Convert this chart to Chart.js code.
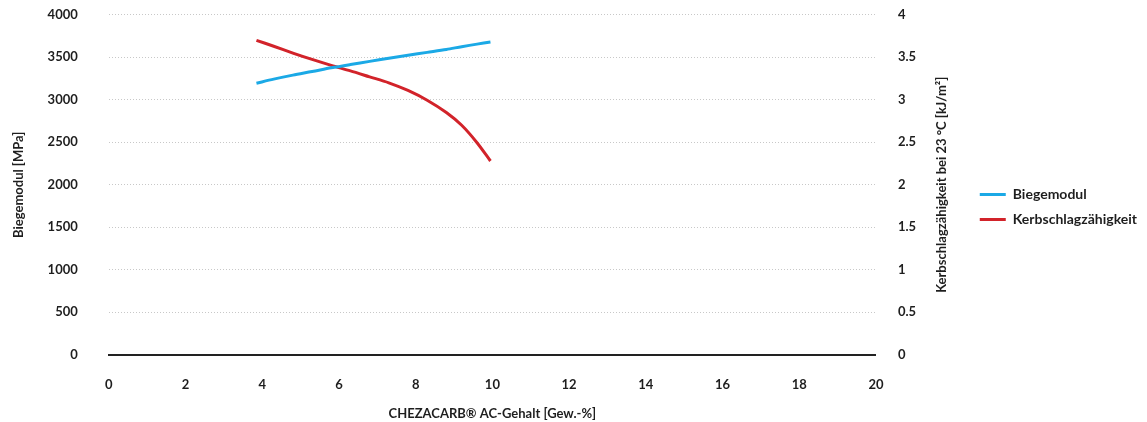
<!DOCTYPE html>
<html>
<head>
<meta charset="utf-8">
<script src="https://cdn.jsdelivr.net/npm/chart.js@4/dist/chart.umd.min.js"></script>
<style>
  html, body { margin: 0; padding: 0; background: #fff; }
  #wrap { width: 1147px; height: 422px; position: relative; }
</style>
</head>
<body>
<div id="wrap"><canvas id="chart"></canvas></div>
<script>
// AC-Gehalt in Gew.-%
const acGehalt = [3.85, 4.3, 4.8, 5.3, 5.8, 6.3, 6.8, 7.3, 7.8, 8.3, 8.8, 9.2, 9.6, 9.95];
// Biegemodul [MPa]
const biegemodul = [3195, 3243, 3290, 3332, 3376, 3415, 3452, 3488, 3524, 3558, 3592, 3625, 3655, 3680];
// Kerbschlagzähigkeit bei 23 °C [kJ/m²]
const kerbschlag = [3.70, 3.63, 3.55, 3.475, 3.405, 3.34, 3.27, 3.20, 3.11, 2.995, 2.85, 2.70, 2.495, 2.28];

const xTitle = 'CHEZACARB® AC-Gehalt [Gew.-%]';
const yLeftTitle = 'Biegemodul [MPa]';
const yRightTitle = 'Kerbschlagzähigkeit bei 23 °C [kJ/m²]';

const FONT = 'Lato, "Noto Sans", sans-serif';
const TEXT = '#1e1e1e';
const bold = size => ({ family: FONT, size: size, weight: 'bold' });

// right title must read bottom-to-top like the left one
const rightTitlePlugin = {
    id: 'rightTitle',
    afterLayout: function (chart) {
        // legend sits a bit above the centre in the original
        chart.legend.top -= 7;
        chart.legend.bottom -= 7;
    },
    afterDraw: function (chart) {
        const s = chart.scales.y2;
        const ctx = chart.ctx;
        ctx.save();
        ctx.font = 'bold 13px ' + FONT;
        ctx.fillStyle = TEXT;
        ctx.textAlign = 'center';
        ctx.textBaseline = 'middle';
        ctx.translate(s.right - 19 - 7.8, (s.top + s.bottom) / 2);
        ctx.rotate(-Math.PI / 2);
        ctx.fillText(yRightTitle, 0, 0);
        ctx.restore();
    }
};

new Chart(document.getElementById('chart'), {
    type: 'line',
    data: {
        datasets: [
            {
                label: 'Biegemodul',
                data: acGehalt.map((x, i) => ({ x: x, y: biegemodul[i] })),
                borderColor: '#1ba9e6',
                backgroundColor: '#1ba9e6',
                borderWidth: 3,
                pointRadius: 0,
                tension: 0.3,
                yAxisID: 'y'
            },
            {
                label: 'Kerbschlagzähigkeit',
                data: acGehalt.map((x, i) => ({ x: x, y: kerbschlag[i] })),
                borderColor: '#d2232a',
                backgroundColor: '#d2232a',
                borderWidth: 3,
                pointRadius: 0,
                tension: 0.3,
                yAxisID: 'y2'
            }
        ]
    },
    options: {
        responsive: true,
        maintainAspectRatio: false,
        animation: false,
        layout: { padding: { top: 6, left: 2, right: 0, bottom: 0 } },
        plugins: {
            tooltip: { enabled: false },
            legend: {
                position: 'right',
                labels: {
                    usePointStyle: true,
                    pointStyle: 'line',
                    pointStyleWidth: 26,
                    padding: 11,
                    color: TEXT,
                    font: bold(14)
                }
            }
        },
        scales: {
            x: {
                type: 'linear',
                min: 0,
                max: 20,
                ticks: {
                    stepSize: 2,
                    padding: 14,
                    color: TEXT,
                    font: bold(13)
                },
                grid: { display: false, drawTicks: true, tickLength: 8 },
                border: { display: true, color: '#222', width: 2 },
                title: {
                    display: true,
                    text: xTitle,
                    color: TEXT,
                    padding: { top: 0, bottom: 0 },
                    font: bold(13)
                }
            },
            y: {
                position: 'left',
                min: 0,
                max: 4000,
                ticks: {
                    stepSize: 500,
                    padding: 7,
                    color: TEXT,
                    font: bold(13),
                    callback: v => String(v)
                },
                grid: { color: '#c8c8c8', lineWidth: 1, drawTicks: true, tickLength: 24, tickColor: 'rgba(0,0,0,0)' },
                border: { display: false, dash: [1, 2] },
                title: {
                    display: true,
                    text: yLeftTitle,
                    color: TEXT,
                    padding: { top: 9, bottom: 14 },
                    font: bold(13)
                }
            },
            y2: {
                position: 'right',
                min: 0,
                max: 4,
                ticks: {
                    stepSize: 0.5,
                    padding: 7,
                    color: TEXT,
                    font: bold(13),
                    callback: v => String(v)
                },
                grid: { drawOnChartArea: false, drawTicks: true, tickLength: 15, tickColor: 'rgba(0,0,0,0)' },
                border: { display: false },
                title: {
                    display: true,
                    text: yRightTitle,
                    color: 'rgba(0,0,0,0)',
                    padding: { top: 11, bottom: 19 },
                    font: bold(13)
                }
            }
        }
    },
    plugins: [rightTitlePlugin]
});
</script>
</body>
</html>
